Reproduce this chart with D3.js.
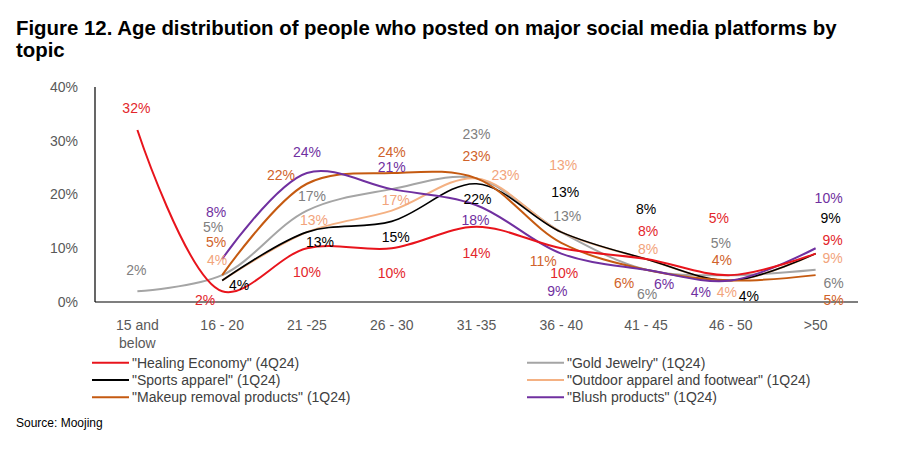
<!DOCTYPE html>
<html><head><meta charset="utf-8">
<script src="https://cdn.jsdelivr.net/npm/d3@7"></script>
<style>
body{margin:0;background:#fff;}
svg text{font-family:"Liberation Sans",Arial,sans-serif;}
</style></head>
<body><svg id="c" width="922" height="449"></svg>
<script>
const categories = ["15 and below","16 - 20","21 -25","26 - 30","31 -35","36 - 40","41 - 45","46 - 50",">50"];
const yTicks = [0,10,20,30,40];
const healingEconomy = [32,2,10,10,14,10,8,5,9];
const goldJewelry = [2,5,17,21,23,13,6,5,6];
const sportsApparel = [null,4,13,15,22,13,8,4,9];
const outdoorApparel = [null,4,13,17,23,13,8,4,9];
const makeupRemoval = [null,5,22,24,23,11,6,4,5];
const blushProducts = [null,8,24,21,18,9,6,4,10];
const seriesNames = ['"Healing Economy" (4Q24)','"Gold Jewelry" (1Q24)','"Sports apparel" (1Q24)','"Outdoor apparel and footwear" (1Q24)','"Makeup removal products" (1Q24)','"Blush products" (1Q24)'];

// label offsets (pixels), layout only
const healingOff = [[-1,-22],[-17,9],[0,24],[0,25],[0,26],[3,25],[2,-28],[-12,-57],[17,-14]];
const goldOff = [[-1,-21],[-9,-48],[5,-15],null,[0,-44],[6,-16],[1,24],[-10,-32],[18,13]];
const sportsOff = [null,[17,5],[13,10],[4,16],[1,15],[4,-40],[0,-50],[18,16],[15,-36]];
const outdoorOff = [null,[-5,-20],[7,-12],[4,-11],[29,-3],[2,-67],[2,-10],[-4,12],[17,4]];
const makeupOff = [null,[-6,-33],[-26,-9],[0,-21],[0,-22],[-18,18],[-22,13],[-9,-20],[18,25]];
const blushOff = [null,[-6,-47],[0,-21],[0,-22],[-1,15],[-4,37],[18,14],[-30,12],[13,-50]];

const series = [
  {name:seriesNames[0], values:healingEconomy, off:healingOff, line:"#e8141c", label:"#e3262b", w:2},
  {name:seriesNames[1], values:goldJewelry, off:goldOff, line:"#a5a5a5", label:"#808080", w:2},
  {name:seriesNames[2], values:sportsApparel, off:sportsOff, line:"#000000", label:"#000000", w:1.6},
  {name:seriesNames[3], values:outdoorApparel, off:outdoorOff, line:"#f4b183", label:"#f2a47c", w:2},
  {name:seriesNames[4], values:makeupRemoval, off:makeupOff, line:"#c55a11", label:"#d0622a", w:2},
  {name:seriesNames[5], values:blushProducts, off:blushOff, line:"#7030a0", label:"#7030a0", w:2}
];

const svg = d3.select("#c");
const x = d3.scaleBand().domain(categories).range([95,858]);
const y = d3.scaleLinear().domain([0,40]).range([302,87]);
const cx = c => x(c) + x.bandwidth()/2;

// title
const title = svg.append("text").attr("x",16).attr("font-weight","bold").attr("font-size",20.4).attr("fill","#000");
title.append("tspan").attr("x",16).attr("y",35).text("Figure 12. Age distribution of people who posted on major social media platforms by");
title.append("tspan").attr("x",16).attr("y",57).text("topic");

// y tick labels
svg.append("g").selectAll("text").data(yTicks).join("text")
  .attr("x",78).attr("y",d=>y(d)).attr("dy","0.35em").attr("text-anchor","end")
  .attr("font-size",14).attr("fill","#595959").text(d=>d+"%");

// x labels
const xl = svg.append("g").selectAll("text").data(categories).join("text")
  .attr("x",d=>cx(d)).attr("y",330).attr("text-anchor","middle").attr("font-size",14).attr("fill","#595959");
xl.each(function(d){
  const t=d3.select(this);
  if(d==="15 and below"){
    t.append("tspan").attr("x",cx(d)).attr("y",330).text("15 and");
    t.append("tspan").attr("x",cx(d)).attr("y",348).text("below");
  } else t.text(d);
});

// lines
const line = d3.line().defined(d=>d.v!=null).x(d=>cx(d.c)).y(d=>y(d.v)).curve(d3.curveCatmullRom.alpha(0.5));
const drawOrder = [1,3,2,4,5,0];
drawOrder.forEach(i=>{
  const s=series[i];
  const pts=categories.map((c,j)=>({c,v:s.values[j]})).filter(d=>d.v!=null);
  svg.append("path").attr("d",line(pts)).attr("fill","none").attr("stroke",s.line).attr("stroke-width",s.w);
});

// axes lines
svg.append("line").attr("x1",95).attr("x2",95).attr("y1",87).attr("y2",302).attr("stroke","#000").attr("stroke-width",1.2);
svg.append("line").attr("x1",95).attr("x2",858).attr("y1",302).attr("y2",302).attr("stroke","#000").attr("stroke-width",1.2);

// labels
series.forEach(s=>{
  svg.append("g").selectAll("text").data(categories.map((c,j)=>({c,v:s.values[j],o:s.off[j]})).filter(d=>d.v!=null&&d.o))
    .join("text").attr("x",d=>cx(d.c)+d.o[0]).attr("y",d=>y(d.v)+d.o[1]).attr("dy","0.35em")
    .attr("text-anchor","middle").attr("font-size",14).attr("fill",s.label).text(d=>d.v+"%");
});

// legend
const legendPos = [[92,362.7],[527,362.7],[92,380],[527,380],[92,397.3],[527,397.3]];
const legendOrder = [0,1,2,3,4,5];
legendOrder.forEach((i,k)=>{
  const s=series[i]; const p=legendPos[k];
  svg.append("line").attr("x1",p[0]).attr("x2",p[0]+37).attr("y1",p[1]).attr("y2",p[1]).attr("stroke",s.line).attr("stroke-width",2);
  svg.append("text").attr("x",p[0]+40).attr("y",p[1]).attr("dy","0.35em").attr("font-size",14).attr("fill","#404040").text(s.name);
});

svg.append("text").attr("x",16).attr("y",423).attr("dy","0.35em").attr("font-size",12).attr("fill","#000").text("Source: Moojing");
</script></body></html>
